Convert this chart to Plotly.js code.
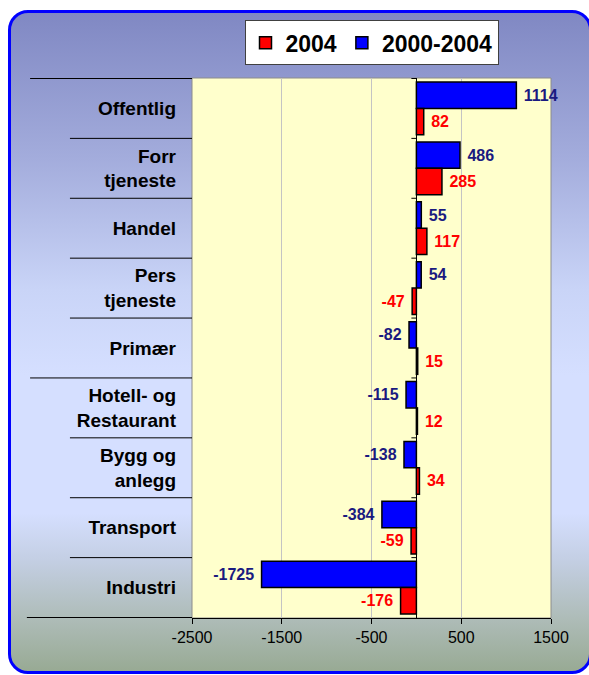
<!DOCTYPE html>
<html>
<head>
<meta charset="utf-8">
<script src="https://cdn.plot.ly/plotly-3.0.1.min.js"></script>
<style>
  html, body { margin:0; padding:0; background:#ffffff; width:589px; height:675px; overflow:hidden; }
  #frame {
    position:absolute; left:8px; top:10px; width:584px; height:664px;
    border:3px solid #0000ff; border-radius:20px; box-sizing:border-box;
    background: linear-gradient(to bottom, #8088c3 0%, #a3acdc 22%, #c9d4f7 42%, #d5dfff 55%, #d5dfff 76%, #c4cfe4 83%, #aebcb8 92%, #98aa94 100%);
  }
  #chart { position:absolute; left:0; top:0; width:589px; height:675px; }
</style>
</head>
<body>
<div id="frame"></div>
<div id="chart"></div>
<script>
const categories = ['Offentlig', 'Forr<br>tjeneste', 'Handel', 'Pers<br>tjeneste', 'Primær',
                    'Hotell- og<br>Restaurant', 'Bygg og<br>anlegg', 'Transport', 'Industri'];
const values2004 = [82, 285, 117, -47, 15, 12, 34, -59, -176];
const values2000_2004 = [1114, 486, 55, 54, -82, -115, -138, -384, -1725];
const seriesNames = ['2004', '2000-2004'];
const xTickVals = [-2500, -1500, -500, 500, 1500];

const FONT = '"Liberation Sans", Arial, sans-serif';
const NB = '\u00a0';
const label = v => (v >= 0 ? NB + String(v) : String(v) + NB);

const traces = [
  {
    type: 'bar', orientation: 'h', name: seriesNames[1],
    y: categories, x: values2000_2004,
    text: values2000_2004.map(label), textposition: 'outside',
    textfont: {family: FONT, size: 16, color: '#1a1a80', weight: 'bold'},
    marker: {color: '#0000ff', line: {color: '#000000', width: 1.5}},
    cliponaxis: false, constraintext: 'none', hoverinfo: 'none'
  },
  {
    type: 'bar', orientation: 'h', name: seriesNames[0],
    y: categories, x: values2004,
    text: values2004.map(label), textposition: 'outside',
    textfont: {family: FONT, size: 16, color: '#ff0000', weight: 'bold'},
    marker: {color: '#ff0000', line: {color: '#000000', width: 1.5}},
    cliponaxis: false, constraintext: 'none', hoverinfo: 'none'
  }
];

const shapes = [];
// plot area border
shapes.push({type:'rect', xref:'paper', yref:'paper', x0:0, x1:1, y0:0, y1:1,
  line:{color:'#8c8c8c', width:1}, layer:'below'});
// category separators in label area (one long divider in the middle)
for (let i = 1; i < categories.length; i++) {
  const longLine = (i === 5);
  shapes.push({type:'line', xref:'paper', yref:'y', x0: longLine ? -0.451 : -0.34, x1:0,
    y0:i-0.5, y1:i-0.5, line:{color:'#000000', width:1}});
  shapes.push({type:'line', xref:'x', yref:'y', xsizemode:'pixel', xanchor:0, x0:-5, x1:0,
    y0:i-0.5, y1:i-0.5, line:{color:'#000000', width:1}});
}
// top and bottom lines
shapes.push({type:'line', xref:'paper', yref:'y', x0:-0.451, x1:0, y0:-0.5, y1:-0.5,
  line:{color:'#000000', width:1}});
shapes.push({type:'line', xref:'x', yref:'y', xsizemode:'pixel', xanchor:0, x0:-5, x1:0,
  y0:-0.5, y1:-0.5, line:{color:'#000000', width:1}});
shapes.push({type:'line', xref:'paper', yref:'y', x0:-0.46, x1:0, y0:categories.length-0.5, y1:categories.length-0.5,
  line:{color:'#000000', width:1}});

const layout = {
  width: 589, height: 675,
  margin: {l:192, r:38, t:78, b:57},
  paper_bgcolor: 'rgba(0,0,0,0)',
  plot_bgcolor: '#ffffcc',
  barmode: 'group', bargap: 0.12, bargroupgap: 0,
  showlegend: true,
  legend: {
    orientation: 'h', x: 0.5, xanchor: 'center', y: 1.107, yanchor: 'top',
    traceorder: 'reversed',
    bgcolor: '#ffffff', bordercolor: '#404040', borderwidth: 1,
    font: {family: FONT, size: 23, color: '#000000', weight: 'bold'},
    itemwidth: 30
  },
  xaxis: {
    range: [-2500, 1500], tickvals: xTickVals, ticktext: xTickVals.map(String),
    ticks: 'outside', ticklen: 5, tickcolor: '#000000',
    showline: true, linecolor: '#000000', linewidth: 1,
    showgrid: true, gridcolor: '#c4c4c4', gridwidth: 1,
    zeroline: true, zerolinecolor: '#000000', zerolinewidth: 1,
    tickfont: {family: FONT, size: 16, color: '#000000'},
    fixedrange: true
  },
  yaxis: {
    type: 'category', autorange: 'reversed',
    showgrid: false, zeroline: false, showline: false, ticks: '',
    ticklabelstandoff: 15,
    tickfont: {family: FONT, size: 19, color: '#000000', weight: 'bold'},
    fixedrange: true
  },
  shapes: shapes
};

Plotly.newPlot('chart', traces, layout, {displayModeBar: false, staticPlot: true});
</script>
</body>
</html>
